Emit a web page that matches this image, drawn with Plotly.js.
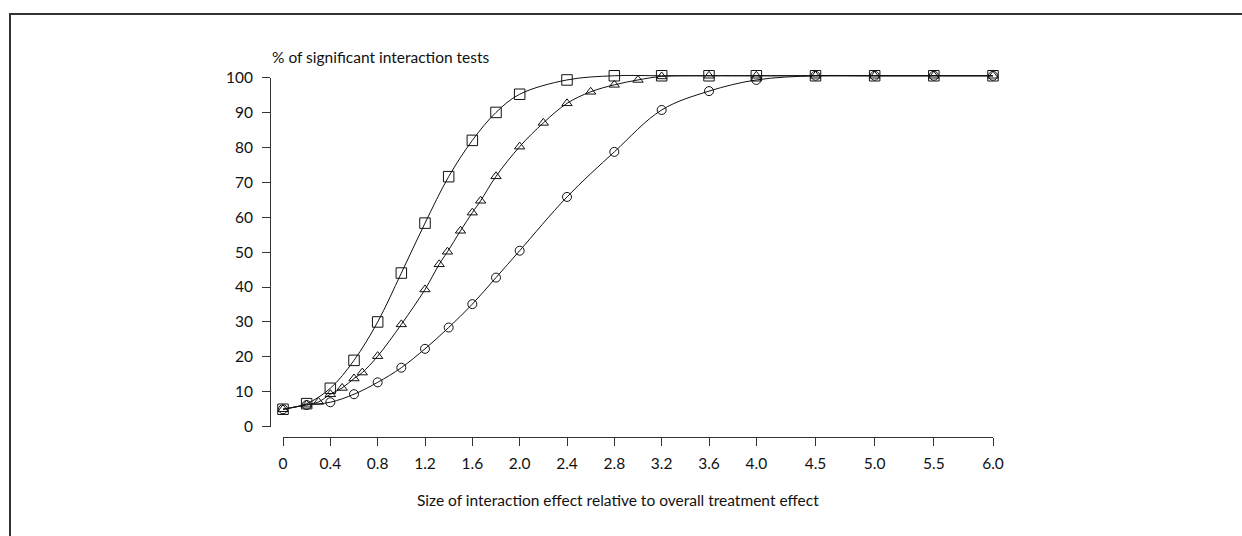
<!DOCTYPE html>
<html>
<head>
<meta charset="utf-8">
<script src="https://cdn.plot.ly/plotly-3.0.1.min.js"></script>
<style>
  html, body { margin: 0; padding: 0; background: #fff; }
  #frame { position: absolute; left: 9px; top: 13px; width: 1240px; height: 530px;
           border-top: 2px solid #333; border-left: 2px solid #333; }
  #chart { position: absolute; left: 0; top: 0; width: 1242px; height: 536px; }
</style>
</head>
<body>
<div id="frame"></div>
<div id="chart"></div>
<script>
// Tick labels of the x axis
const xTicks = [0, 0.4, 0.8, 1.2, 1.6, 2.0, 2.4, 2.8, 3.2, 3.6, 4.0, 4.5, 5.0, 5.5, 6.0];
const xTickText = ["0", "0.4", "0.8", "1.2", "1.6", "2.0", "2.4", "2.8", "3.2", "3.6", "4.0", "4.5", "5.0", "5.5", "6.0"];
const yTicks = [0, 10, 20, 30, 40, 50, 60, 70, 80, 90, 100];

// Series: squares
const xSquare = [0, 0.2, 0.4, 0.6, 0.8, 1.0, 1.2, 1.4, 1.6, 1.8, 2.0, 2.4, 2.8, 3.2, 3.6, 4.0, 4.5, 5.0, 5.5, 6.0];
const ySquare = [5, 6.6, 11, 19, 30, 44, 58.3, 71.6, 82, 90, 95.2, 99.3, 100.5, 100.5, 100.5, 100.5, 100.5, 100.5, 100.5, 100.5];

// Series: triangles
const xTri = [0, 0.2, 0.3, 0.4, 0.5, 0.6, 0.67, 0.8, 1.0, 1.2, 1.32, 1.39, 1.5, 1.6, 1.67, 1.8, 2.0, 2.2, 2.4, 2.6, 2.8, 3.0, 3.2, 3.6, 4.0, 4.5, 5.0, 5.5, 6.0];
const yTri = [5, 6.3, 7.1, 9.3, 11.1, 13.8, 15.5, 20.2, 29.3, 39.3, 46.5, 50.1, 56.1, 61.3, 64.7, 71.7, 80.2, 87.0, 92.6, 95.9, 97.9, 99.3, 100.3, 100.5, 100.5, 100.5, 100.5, 100.5, 100.5];

// Series: circles
const xCirc = [0, 0.2, 0.4, 0.6, 0.8, 1.0, 1.2, 1.4, 1.6, 1.8, 2.0, 2.4, 2.8, 3.2, 3.6, 4.0, 4.5, 5.0, 5.5, 6.0];
const yCirc = [5, 6.2, 7.0, 9.3, 12.7, 16.9, 22.3, 28.4, 35.1, 42.7, 50.4, 65.8, 78.7, 90.7, 96.1, 99.3, 100.5, 100.5, 100.5, 100.5];

const FONT = "Lato, 'Open Sans', sans-serif";
const INK = "#111";
const FS = 15.5;

// plot area: 60..437 px vertically (377 px), 270..993 px horizontally (723 px)
const PH = 377, PW = 723;
const Y0PX = 426.7, Y100PX = 77.5;   // pixel rows of 0 and 100
const pxPerUnit = (Y0PX - Y100PX) / 100;
const yDomLo = (437 - Y0PX) / PH;
const yDomHi = (437 - Y100PX) / PH;

function series(x, y, symbol, size) {
  return {
    x: x, y: y, xaxis: "x", yaxis: "y2", type: "scatter", mode: "lines+markers",
    line: { color: INK, width: 1, shape: "spline", smoothing: 1 },
    marker: { symbol: symbol, size: size, color: INK, line: { color: INK, width: 1 } },
    cliponaxis: false, hoverinfo: "skip", showlegend: false
  };
}

const data = [
  // empty trace so that the visible value axis (x/y subplot) is drawn
  { x: [], y: [], xaxis: "x", yaxis: "y", type: "scatter", mode: "markers", hoverinfo: "skip", showlegend: false },
  series(xCirc, yCirc, "circle-open", 9),
  series(xTri, yTri, "triangle-up-open", 9),
  series(xSquare, ySquare, "square-open", 10.5)
];

const layout = {
  width: 1242, height: 536,
  margin: { l: 270, r: 249, t: 60, b: 99, pad: 0 },
  paper_bgcolor: "rgba(0,0,0,0)", plot_bgcolor: "rgba(0,0,0,0)",
  font: { family: FONT, size: FS, color: INK },
  showlegend: false,
  xaxis: {
    domain: [13 / PW, 1], range: [0, 6], anchor: "free", position: 0,
    tickmode: "array", tickvals: xTicks, ticktext: xTickText,
    ticks: "outside", ticklen: 8, tickwidth: 1, tickcolor: "#333",
    ticklabelstandoff: 4,
    showline: true, linecolor: "#333", linewidth: 1,
    showgrid: false, zeroline: false,
    tickfont: { family: FONT, size: FS, color: INK }
  },
  // visible value axis: line only between 0 and 100
  yaxis: {
    domain: [yDomLo, yDomHi], range: [0, 100], anchor: "free", position: 0,
    tickmode: "array", tickvals: yTicks,
    ticks: "outside", ticklen: 8, tickwidth: 1, tickcolor: "#333",
    ticklabelstandoff: 6,
    showline: true, linecolor: "#333", linewidth: 1,
    showgrid: false, zeroline: false,
    tickfont: { family: FONT, size: FS, color: INK }
  },
  // same scale, taller domain so points just above 100 are not clipped
  yaxis2: {
    domain: [yDomLo, 1], range: [0, (Y0PX - 60) / pxPerUnit], anchor: "x",
    visible: false, showgrid: false, zeroline: false
  },
  annotations: [
    { text: "% of significant interaction tests", xref: "paper", yref: "paper",
      x: 0, y: (437 - 57) / PH, xanchor: "left", yanchor: "middle", showarrow: false,
      font: { family: FONT, size: FS, color: INK } },
    { text: "Size of interaction effect relative to overall treatment effect", xref: "paper", yref: "paper",
      x: (618 - 270) / PW, y: (437 - 500) / PH, xanchor: "center", yanchor: "middle", showarrow: false,
      font: { family: FONT, size: FS, color: INK } }
  ]
};

Plotly.newPlot("chart", data, layout, { staticPlot: true, displayModeBar: false });
</script>
</body>
</html>
